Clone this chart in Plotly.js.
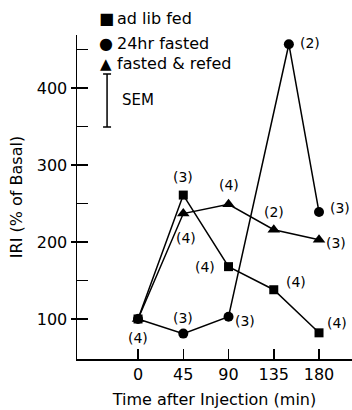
<!DOCTYPE html>
<html>
<head>
<meta charset="utf-8">
<script src="https://cdn.plot.ly/plotly-3.0.1.min.js"></script>
<style>html,body{margin:0;padding:0;background:#fff;}#chart{width:352px;height:410px;}</style>
</head>
<body>
<div id="chart"></div>
<script>
// ---- data ----
var times = [0, 45, 90, 135, 180];
var fastedTimes = [0, 45, 90, 150, 180];
var adLib = [100, 261, 168, 138, 82];
var fasted = [100, 81, 103, 457, 239];
var refed = [100, 237, 249, 216, 203];
var adLibN = ['(4)', '(3)', '(4)', '(4)', '(4)'];
var fastedN = [null, '(3)', '(3)', '(2)', '(3)'];
var refedN = [null, '(4)', '(4)', '(2)', '(3)'];
var seriesNames = ['ad lib fed', '24hr fasted', 'fasted & refed'];
var xTicks = [0, 45, 90, 135, 180];
var yTicks = [100, 200, 300, 400];
var yMinorTicks = [150, 250, 350, 450];
var semX = [-30.8];
var semY = [383.8];
var semErr = [34.4];

// ---- styling / placement ----
var FONT = 'DejaVu Sans';
var adLibShift = [[0, -19], [0, 18], [-24, 0], [22, 8], [18, 10]];
var fastedShift = [null, [0, 16], [16, -4], [21, 1], [21, 4]];
var refedShift = [null, [3, -24], [0, 19], [0, 18], [17, -3]];

function lineTrace(x, y, sym, size) {
  return {
    x: x, y: y, type: 'scatter', mode: 'lines+markers',
    line: {color: '#000', width: 1.5},
    marker: {symbol: sym, size: size, color: '#000'},
    cliponaxis: false, showlegend: false, hoverinfo: 'skip'
  };
}

var data = [
  lineTrace(times, adLib, 'square', 9),
  lineTrace(fastedTimes, fasted, 'circle', 10),
  lineTrace(times, refed, 'triangle-up', 11),
  {
    x: semX, y: semY, type: 'scatter', mode: 'markers',
    marker: {size: 0.1, color: 'rgba(0,0,0,0)'},
    error_y: {type: 'data', array: semErr, visible: true, color: '#000', thickness: 1.5, width: 4},
    cliponaxis: false, showlegend: false, hoverinfo: 'skip', yaxis: 'y2'
  }
];

var annotations = [];
function addLabels(x, y, labels, shifts) {
  for (var i = 0; i < x.length; i++) {
    if (!labels[i]) continue;
    annotations.push({
      x: x[i], y: y[i], xref: 'x', yref: 'y', text: labels[i], showarrow: false,
      xanchor: 'center', yanchor: 'middle', xshift: shifts[i][0], yshift: shifts[i][1],
      font: {family: FONT, size: 14, color: '#000'}
    });
  }
}
addLabels(times, adLib, adLibN, adLibShift);
addLabels(fastedTimes, fasted, fastedN, fastedShift);
addLabels(times, refed, refedN, refedShift);

// legend (drawn as text)
var glyphs = ['\u25A0', '\u25CF', '\u25B2'];
var glyphSizes = [16, 16, 15];
var rowsY = [1.0494, 0.9753, 0.9105];
for (var k = 0; k < 3; k++) {
  annotations.push({
    x: 0.1055, y: rowsY[k], xref: 'paper', yref: 'paper', text: glyphs[k], showarrow: false,
    xanchor: 'center', yanchor: 'middle', font: {family: FONT, size: glyphSizes[k], color: '#000'}
  });
  annotations.push({
    x: 0.1382, y: rowsY[k], xref: 'paper', yref: 'paper', text: seriesNames[k], showarrow: false,
    xanchor: 'left', yanchor: 'middle', font: {family: FONT, size: 16, color: '#000'}
  });
}
annotations.push({
  x: 0.1564, y: 0.7994, xref: 'paper', yref: 'paper', text: 'SEM', showarrow: false,
  xanchor: 'left', yanchor: 'middle', font: {family: FONT, size: 15, color: '#000'}
});

var yRange = [48, 469];
var layout = {
  width: 352, height: 410,
  margin: {l: 77, r: 0, t: 35, b: 51},
  paper_bgcolor: '#fff', plot_bgcolor: '#fff',
  font: {family: FONT, color: '#000'},
  showlegend: false,
  xaxis: {
    range: [-60.7, 212.8], tickvals: xTicks, ticktext: xTicks.map(String),
    ticks: 'inside', ticklen: 10, tickwidth: 1.5, tickcolor: '#000',
    showline: true, linecolor: '#000', linewidth: 1.5, showgrid: false, zeroline: false,
    tickfont: {family: FONT, size: 16}, fixedrange: true,
    title: {text: 'Time after Injection (min)', font: {family: FONT, size: 16}, standoff: 11}
  },
  yaxis: {
    range: yRange, tickvals: yTicks, ticktext: yTicks.map(String),
    ticks: 'outside', ticklen: 5, tickwidth: 1.5, tickcolor: '#000',
    showline: true, linecolor: '#000', linewidth: 1.5, showgrid: false, zeroline: false,
    tickfont: {family: FONT, size: 16}, fixedrange: true,
    title: {text: 'IRI (% of Basal)', font: {family: FONT, size: 16}, standoff: 10}
  },
  yaxis2: {
    range: yRange, overlaying: 'y', side: 'left',
    tickvals: yTicks.concat(yMinorTicks), showticklabels: false,
    ticks: 'inside', ticklen: 11, tickwidth: 1.5, tickcolor: '#000',
    showline: false, showgrid: false, zeroline: false, fixedrange: true
  },
  annotations: annotations
};

Plotly.newPlot('chart', data, layout, {displayModeBar: false, staticPlot: true});
</script>
</body>
</html>
